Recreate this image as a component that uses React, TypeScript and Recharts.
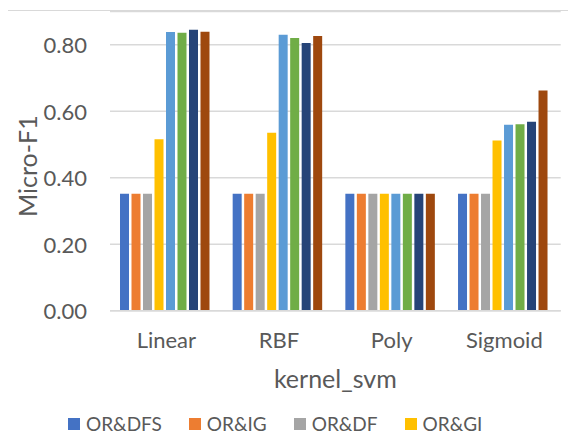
import { BarChart, Bar, XAxis, YAxis, CartesianGrid } from "recharts";

const kernels = ["Linear", "RBF", "Poly", "Sigmoid"];

// one array per method, values in kernel order
const orDfs = [0.352, 0.352, 0.352, 0.352];
const orIg = [0.352, 0.352, 0.352, 0.352];
const orDf = [0.352, 0.352, 0.352, 0.352];
const orGi = [0.516, 0.535, 0.352, 0.512];
const fsDfs = [0.838, 0.83, 0.352, 0.559];
const fsIg = [0.836, 0.82, 0.352, 0.561];
const fsDf = [0.845, 0.805, 0.352, 0.568];
const fsGi = [0.839, 0.826, 0.352, 0.662];

const seriesNames = ["OR&DFS", "OR&IG", "OR&DF", "OR&GI", "FS&DFS", "FS&IG", "FS&DF", "FS&GI"];
const seriesValues = [orDfs, orIg, orDf, orGi, fsDfs, fsIg, fsDf, fsGi];
const seriesColors = ["#4472C4", "#ED7D31", "#A5A5A5", "#FFC000", "#5B9BD5", "#70AD47", "#264478", "#9E480E"];

const yTicks = [0, 0.2, 0.4, 0.6, 0.8];

// only the first legend row is inside the picture
const legendShown = seriesNames.slice(0, 4);

const chartData = kernels.map((k, i) => {
  const row: Record<string, string | number> = { kernel: k };
  seriesNames.forEach((name, s) => {
    row[name] = seriesValues[s][i];
  });
  return row;
});

const FONT = "Lato, 'Liberation Sans', sans-serif";
const TEXT = "#595959";

function XTick({ x, y, payload }: any) {
  return (
    <text x={x} y={y + 37} textAnchor="middle" fill={TEXT} fontSize={22} fontFamily={FONT}>
      {payload.value}
    </text>
  );
}

function YTick({ x, y, payload }: any) {
  return (
    <text x={x} y={y} textAnchor="end" dominantBaseline="central" fill={TEXT} fontSize={22} fontFamily={FONT}>
      {payload.value.toFixed(2)}
    </text>
  );
}

function XTitle({ viewBox }: any) {
  return (
    <text x={viewBox.x + viewBox.width / 2} y={viewBox.y + 77} textAnchor="middle" fill={TEXT} fontSize={25} fontFamily={FONT}>
      kernel_svm
    </text>
  );
}

function YTitle({ viewBox }: any) {
  const cy = viewBox.y + viewBox.height / 2 + 5;
  return (
    <text
      x={37}
      y={cy}
      transform={`rotate(-90, 37, ${cy})`}
      textAnchor="middle"
      fill={TEXT}
      fontSize={25}
      fontFamily={FONT}
    >
      Micro-F1
    </text>
  );
}

export default function App() {
  return (
    <div style={{ position: "relative", width: 576, height: 443, margin: -8, overflow: "hidden", background: "#fff" }}>
      {/* chart frame, only left and top edges are inside the crop */}
      <div
        style={{
          position: "absolute",
          left: 6,
          top: 10,
          width: 700,
          height: 600,
          borderLeft: "1.5px solid #D9D9D9",
          borderTop: "1.5px solid #D9D9D9",
        }}
      />
      <div style={{ position: "absolute", left: 0, top: 0 }}>
        <BarChart
          width={576}
          height={443}
          data={chartData}
          margin={{ top: 11.5, right: 15.3, bottom: 0, left: 0 }}
          barCategoryGap={10}
          barGap={2.5}
        >
          <CartesianGrid vertical={false} stroke="#D9D9D9" strokeWidth={1.5} />
          <XAxis
            dataKey="kernel"
            height={132.3}
            tickLine={false}
            tickSize={0}
            tickMargin={0}
            axisLine={{ stroke: "#D9D9D9", strokeWidth: 1.5 }}
            tick={<XTick />}
            label={<XTitle />}
          />
          <YAxis
            width={110}
            domain={[0, 0.9]}
            ticks={yTicks}
            axisLine={false}
            tickLine={false}
            tickSize={0}
            tickMargin={23}
            tick={<YTick />}
            label={<YTitle />}
          />
          {seriesNames.map((name, s) => (
            <Bar key={name} dataKey={name} fill={seriesColors[s]} isAnimationActive={false} />
          ))}
        </BarChart>
      </div>
      <div
        style={{
          position: "absolute",
          left: 68,
          top: 413,
          display: "flex",
          whiteSpace: "nowrap",
          fontFamily: FONT,
          fontSize: 19,
          color: TEXT,
          lineHeight: "22px",
        }}
      >
        {legendShown.map((name, s) => (
          <div key={name} style={{ display: "flex", alignItems: "center", marginRight: 27 }}>
            <span style={{ width: 12, height: 12, background: seriesColors[s], marginRight: 6, display: "inline-block" }} />
            <span>{name}</span>
          </div>
        ))}
      </div>
    </div>
  );
}
